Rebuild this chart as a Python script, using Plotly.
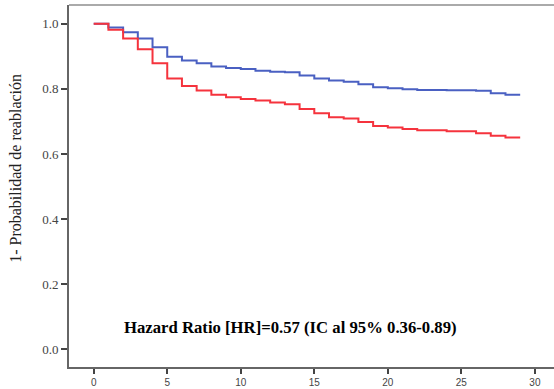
import plotly.graph_objects as go

time = list(range(0, 30))
blue = [1.0, 0.989, 0.974, 0.955, 0.928, 0.899, 0.887, 0.879, 0.869, 0.864,
        0.861, 0.856, 0.853, 0.851, 0.841, 0.832, 0.826, 0.822, 0.814, 0.805,
        0.802, 0.799, 0.797, 0.797, 0.796, 0.796, 0.794, 0.787, 0.782, 0.782]
red = [1.0, 0.982, 0.955, 0.922, 0.879, 0.832, 0.809, 0.795, 0.782, 0.774,
       0.769, 0.764, 0.758, 0.753, 0.738, 0.725, 0.713, 0.709, 0.698, 0.686,
       0.681, 0.677, 0.673, 0.673, 0.670, 0.670, 0.664, 0.656, 0.651, 0.651]
x_ticks = [0, 5, 10, 15, 20, 25, 30]
y_ticks = [0.0, 0.2, 0.4, 0.6, 0.8, 1.0]

fig = go.Figure()
fig.add_trace(go.Scatter(x=time, y=blue, mode="lines", line=dict(shape="hv", color="#4a60c2", width=2),
                         showlegend=False, hoverinfo="skip"))
fig.add_trace(go.Scatter(x=time, y=red, mode="lines", line=dict(shape="hv", color="#f5333d", width=2),
                         showlegend=False, hoverinfo="skip"))

fig.update_layout(
    width=554, height=389,
    margin=dict(l=69, r=0, t=5, b=22),
    paper_bgcolor="white", plot_bgcolor="white",
    xaxis=dict(range=[-1.68, 31.3], tickvals=x_ticks, ticktext=[str(v) for v in x_ticks],
               showgrid=False, zeroline=False, showline=True, linecolor="#666666", linewidth=2,
               ticks="outside", ticklen=5, tickwidth=1.5, tickcolor="#444444",
               tickfont=dict(family="Liberation Sans, Arial", size=10, color="#444444")),
    yaxis=dict(range=[-0.055, 1.058], tickvals=y_ticks, ticktext=[f"{v:.1f}" for v in y_ticks],
               showgrid=False, zeroline=False, showline=True, linecolor="#666666", linewidth=2,
               ticks="outside", ticklen=6, tickwidth=1.5, tickcolor="#444444",
               tickfont=dict(family="Liberation Serif, Times New Roman", size=13, color="#444444")),
    shapes=[dict(type="line", xref="paper", yref="paper", x0=0, x1=1, y0=1, y1=1,
                 line=dict(color="#aaaaaa", width=2))],
    annotations=[
        dict(text="1- Probabilidad de reablación", xref="paper", yref="paper",
             x=-0.111, y=0.548, textangle=-90, showarrow=False, xanchor="center", yanchor="middle",
             font=dict(family="Liberation Serif, Times New Roman", size=16, color="#222222")),
        dict(text="<b>Hazard Ratio [HR]=0.57 (IC al 95% 0.36-0.89)</b>", xref="x", yref="y",
             x=13.35, y=0.065, showarrow=False, xanchor="center", yanchor="middle",
             font=dict(family="Liberation Serif, Times New Roman", size=16.7, color="black")),
    ],
)
fig.write_html("out.html")
